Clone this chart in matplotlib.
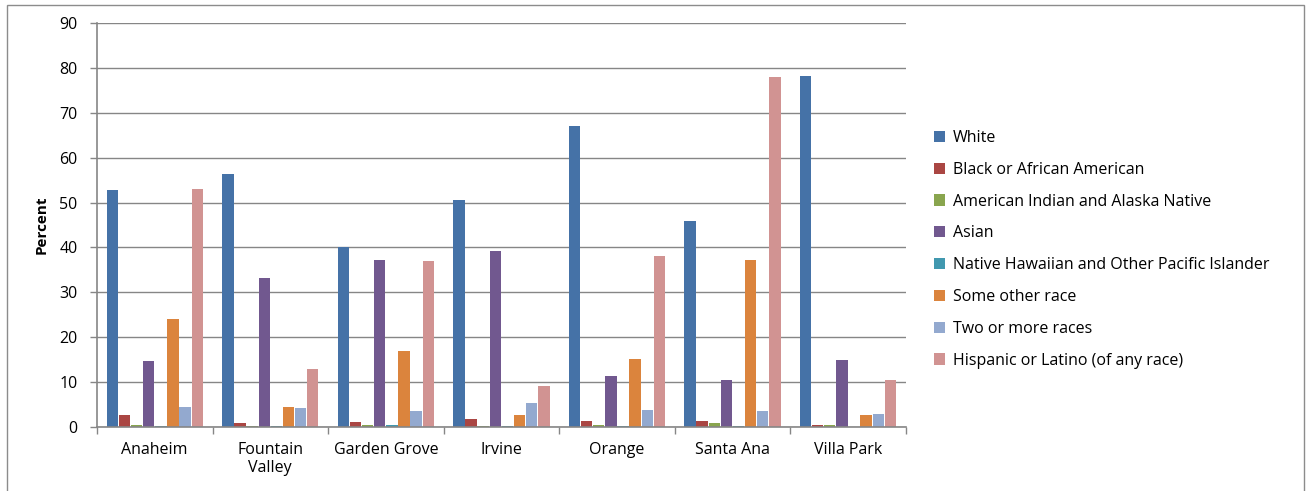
import matplotlib.pyplot as plt
import numpy as np
from matplotlib.patches import Rectangle

cities = ['Anaheim', 'Fountain\nValley', 'Garden Grove', 'Irvine', 'Orange', 'Santa Ana', 'Villa Park']
races = ['White', 'Black or African American', 'American Indian and Alaska Native', 'Asian',
         'Native Hawaiian and Other Pacific Islander', 'Some other race', 'Two or more races',
         'Hispanic or Latino (of any race)']
colors = ['#4572A7', '#AA4643', '#89A54E', '#71588F', '#4198AF', '#DB843D', '#93A9CF', '#D19392']

white = [52.7, 56.4, 40.1, 50.5, 67.0, 45.9, 78.1]
black = [2.7, 0.9, 1.2, 1.7, 1.4, 1.4, 0.5]
aian = [0.5, 0.2, 0.5, 0.3, 0.5, 0.9, 0.5]
asian = [14.8, 33.3, 37.1, 39.2, 11.3, 10.4, 14.9]
nhpi = [0.2, 0.2, 0.5, 0.2, 0.2, 0.2, 0.1]
other = [24.0, 4.5, 17.0, 2.7, 15.2, 37.1, 2.6]
two = [4.5, 4.2, 3.6, 5.4, 3.9, 3.5, 3.0]
hispanic = [53.0, 13.0, 36.9, 9.2, 38.0, 78.0, 10.4]

series = [white, black, aian, asian, nhpi, other, two, hispanic]

plt.rcParams['font.family'] = ['Open Sans', 'DejaVu Sans']

fig = plt.figure(figsize=(13.07, 4.91), dpi=100)
ax = fig.add_axes([0.0742, 0.1303, 0.6188, 0.8228])

# outer chart frame
fig.patches.append(Rectangle((7 / 1307, -0.01), 1297 / 1307, 1 - 5 / 491 + 0.01,
                             transform=fig.transFigure, fill=False,
                             edgecolor='#8c8c8c', linewidth=1))

x = np.arange(len(cities))
w = 0.105
for i, (vals, c, name) in enumerate(zip(series, colors, races)):
    ax.bar(x + (i - 3.5) * w, vals, width=w * 0.94, color=c, label=name, linewidth=0)

ax.set_xlim(-0.5, len(cities) - 0.5)
ax.set_ylim(0, 90)
ax.set_yticks(range(0, 91, 10))
ax.set_xticks(x)
ax.set_xticklabels(cities, fontsize=11.5, linespacing=1.1)
ax.tick_params(axis='x', length=0, pad=11)
ax.set_xticks(np.arange(-0.5, len(cities), 1), minor=True)
ax.tick_params(axis='x', which='minor', length=5, color='#868686', width=1)
ax.tick_params(axis='y', length=5, color='#868686', width=1, labelsize=11.5, pad=9)
ax.grid(axis='y', color='#868686', linewidth=1)
ax.set_axisbelow(True)
for s in ['top', 'right']:
    ax.spines[s].set_visible(False)
for s in ['left', 'bottom']:
    ax.spines[s].set_color('#868686')
    ax.spines[s].set_linewidth(1.2)
ax.set_ylabel('Percent', fontsize=11, fontweight='bold', labelpad=8)

ax.legend(loc='center left', bbox_to_anchor=(1.017, 0.44), frameon=False, fontsize=11.5,
          handlelength=0.7, handleheight=0.7, handletextpad=0.5, labelspacing=0.99)

fig.savefig('out.png', dpi=100)
